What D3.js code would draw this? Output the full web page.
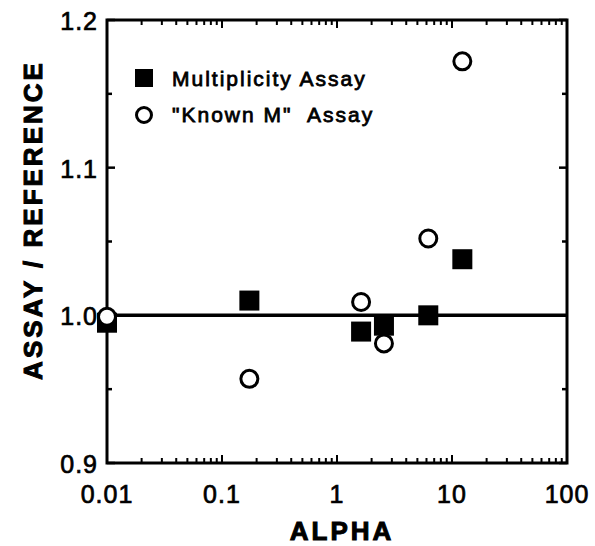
<!DOCTYPE html>
<html><head><meta charset="utf-8">
<script src="https://cdn.jsdelivr.net/npm/d3@7"></script>
<style>
body{margin:0;background:#fff;}
text{font-family:"Liberation Sans",Arial,sans-serif;fill:#000;}
</style></head>
<body><svg id="c" width="595" height="546"></svg>
<script>
const alphaMult = [0.01, 0.173, 1.62, 2.56, 6.22, 12.3];
const ratioMult = [0.995, 1.010, 0.989, 0.993, 1.000, 1.038];
const alphaKnown = [0.01, 0.173, 1.62, 2.56, 6.22, 12.3];
const ratioKnown = [0.999, 0.957, 1.009, 0.981, 1.052, 1.172];
const xTicks = [0.01, 0.1, 1, 10, 100];
const xTickLabels = ["0.01", "0.1", "1", "10", "100"];
const yTicks = [0.9, 1.0, 1.1, 1.2];
const yTickLabels = ["0.9", "1.0", "1.1", "1.2"];
const yMinor = [0.95, 1.05, 1.15];
const legendLabels = ["Multiplicity Assay", "\"Known M\"  Assay"];
const refLine = 1.0;

const svg = d3.select("#c");
const L = 107, R = 567, T = 20, B = 463;
const x = d3.scaleLog().domain([0.01, 100]).range([L, R]);
const y = d3.scaleLinear().domain([0.9, 1.2]).range([B, T]);

const minorX = [];
for (let e = -2; e < 2; e++) for (let k = 2; k <= 9; k++) minorX.push(k * Math.pow(10, e));

const g = svg.append("g");
[B, T].forEach((yy, i) => {
  const dir = i === 0 ? -1 : 1;
  g.selectAll(null).data(minorX).enter().append("line")
    .attr("x1", d => x(d)).attr("x2", d => x(d))
    .attr("y1", yy).attr("y2", yy + dir * 5)
    .attr("stroke", "#000").attr("stroke-width", 2);
  g.selectAll(null).data(xTicks).enter().append("line")
    .attr("x1", d => x(d)).attr("x2", d => x(d))
    .attr("y1", yy).attr("y2", yy + dir * 8)
    .attr("stroke", "#000").attr("stroke-width", 2);
});
[L, R].forEach((xx, i) => {
  const dir = i === 0 ? 1 : -1;
  g.selectAll(null).data(yMinor).enter().append("line")
    .attr("x1", xx).attr("x2", xx + dir * 5)
    .attr("y1", d => y(d)).attr("y2", d => y(d))
    .attr("stroke", "#000").attr("stroke-width", 2.5);
  g.selectAll(null).data(yTicks).enter().append("line")
    .attr("x1", xx).attr("x2", xx + dir * 8)
    .attr("y1", d => y(d)).attr("y2", d => y(d))
    .attr("stroke", "#000").attr("stroke-width", 2.5);
});

svg.append("rect").attr("x", L).attr("y", T).attr("width", R - L).attr("height", B - T)
  .attr("fill", "none").attr("stroke", "#000").attr("stroke-width", 3);

svg.append("line").attr("x1", L).attr("x2", R).attr("y1", y(refLine)).attr("y2", y(refLine))
  .attr("stroke", "#000").attr("stroke-width", 3.5);

svg.selectAll(".xl").data(xTicks).enter().append("text")
  .attr("x", d => x(d)).attr("y", 503)
  .attr("text-anchor", "middle").attr("font-size", 25).attr("letter-spacing", 1)
  .attr("stroke", "#000").attr("stroke-width", 0.7)
  .text((d, i) => xTickLabels[i]);
svg.selectAll(".yl").data(yTicks).enter().append("text")
  .attr("x", 98).attr("y", d => y(d) + 10)
  .attr("text-anchor", "end").attr("font-size", 25).attr("letter-spacing", 1)
  .attr("stroke", "#000").attr("stroke-width", 0.7)
  .text((d, i) => yTickLabels[i]);

svg.append("text").attr("x", 342).attr("y", 540).attr("text-anchor", "middle")
  .attr("font-size", 26).attr("font-weight", "bold").attr("letter-spacing", 3)
  .attr("stroke", "#000").attr("stroke-width", 1).text("ALPHA");
svg.append("text").attr("transform", "translate(42,220) rotate(-90)").attr("text-anchor", "middle")
  .attr("font-size", 26).attr("font-weight", "bold").attr("letter-spacing", 3)
  .attr("stroke", "#000").attr("stroke-width", 1).text("ASSAY / REFERENCE");

const sq = 20;
svg.selectAll(".sq").data(alphaMult).enter().append("rect")
  .attr("x", d => x(d) - sq / 2).attr("y", (d, i) => y(ratioMult[i]) - sq / 2)
  .attr("width", sq).attr("height", sq).attr("fill", "#000");
svg.selectAll(".ci").data(alphaKnown).enter().append("circle")
  .attr("cx", d => x(d)).attr("cy", (d, i) => y(ratioKnown[i]))
  .attr("r", 8.5).attr("fill", "#fff").attr("stroke", "#000").attr("stroke-width", 3);

svg.append("rect").attr("x", 135).attr("y", 69).attr("width", 18).attr("height", 18).attr("fill", "#000");
svg.append("circle").attr("cx", 144).attr("cy", 115).attr("r", 7.5)
  .attr("fill", "#fff").attr("stroke", "#000").attr("stroke-width", 3);
svg.selectAll(".lg").data(legendLabels).enter().append("text")
  .attr("x", 172).attr("y", (d, i) => 86 + i * 36)
  .attr("font-size", 21).attr("letter-spacing", 2)
  .attr("stroke", "#000").attr("stroke-width", 0.8)
  .attr("xml:space", "preserve").style("white-space", "pre")
  .text(d => d);
</script></body></html>
